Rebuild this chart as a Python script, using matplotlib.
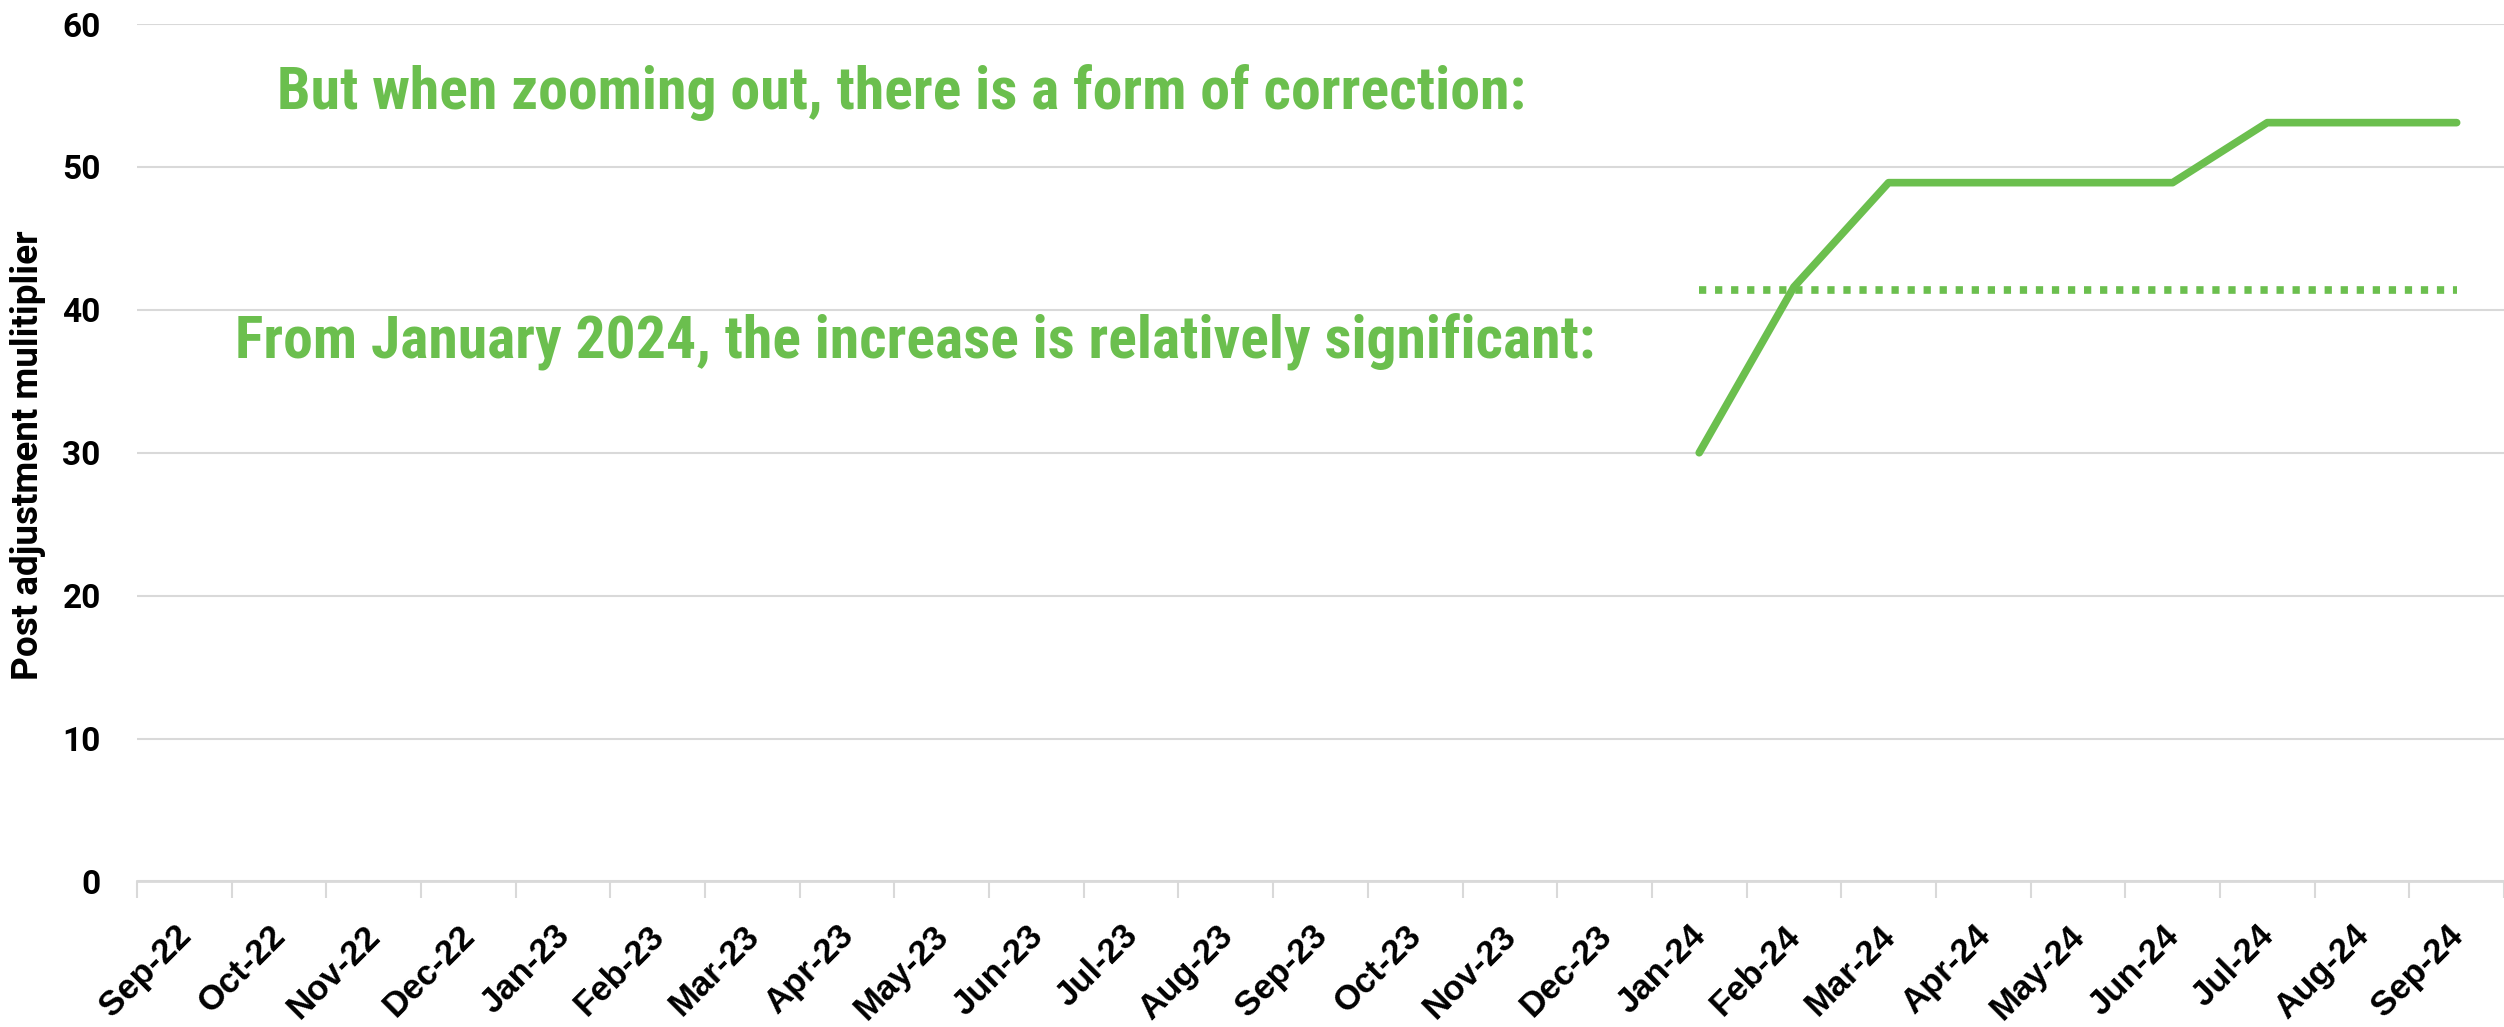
import matplotlib
matplotlib.use("Agg")
import matplotlib.pyplot as plt
from matplotlib import font_manager
from matplotlib.transforms import ScaledTranslation
import numpy as np

months = ["Sep-22", "Oct-22", "Nov-22", "Dec-22", "Jan-23", "Feb-23", "Mar-23",
          "Apr-23", "May-23", "Jun-23", "Jul-23", "Aug-23", "Sep-23", "Oct-23",
          "Nov-23", "Dec-23", "Jan-24", "Feb-24", "Mar-24", "Apr-24", "May-24",
          "Jun-24", "Jul-24", "Aug-24", "Sep-24"]
multiplier = [np.nan] * 16 + [30.0, 41.6, 48.9, 48.9, 48.9, 48.9, 53.1, 53.1, 53.1]
reference_level = [np.nan] * 16 + [41.4] * 9

y_title = "Post adjustment mulitiplier"
note_top = "But when zooming out, there is a form of correction:"
note_mid = "From January 2024, the increase is relatively significant:"

# look for a condensed bold face, otherwise plain Roboto
fams = ["Roboto Condensed", "Roboto", "Noto Sans", "Open Sans", "Liberation Sans Narrow",
        "DejaVu Sans", "Lato", "Inter"]
cond_family, cond_stretch = "Roboto", "normal"
found = [(f.name, f.stretch) for f in font_manager.fontManager.ttflist
         if str(f.stretch) in ("condensed", "semi-condensed", "extra-condensed", "500", "600", "700")
         or "Narrow" in f.name or "Condensed" in f.name]
for fam in fams:
    hits = [h for h in found if h[0] == fam]
    if hits:
        cond_family, cond_stretch = hits[0]
        break

green = "#6BBF4E"
grid = "#D9D9D9"

fig = plt.figure(figsize=(25.04, 10.27), dpi=100)
ax = fig.add_axes([0.0547, 0.1417, 0.9453, 0.8349])

x = np.arange(len(months))
ax.plot(x, multiplier, color=green, lw=5.5, solid_capstyle="round", zorder=3)
ax.plot(x, reference_level, color=green, lw=5.5, linestyle=(0, (0.95, 1.15)),
        dash_capstyle="butt", zorder=3)

ax.set_xlim(-0.5, len(months) - 0.5)
ax.set_ylim(0, 60)
ax.set_yticks(range(0, 61, 10))
ax.yaxis.grid(True, color=grid, lw=1.5)
ax.set_axisbelow(True)
for s in ["top", "right", "left"]:
    ax.spines[s].set_visible(False)
ax.spines["bottom"].set_color(grid)
ax.spines["bottom"].set_linewidth(2)

ax.set_xticks(x)
ax.set_xticks(np.arange(-0.5, len(months), 1), minor=True)
ax.tick_params(axis="x", which="major", length=0, pad=27)
ax.tick_params(axis="x", which="minor", length=12, width=1.5, color=grid)
ax.tick_params(axis="y", length=0, pad=26)
ax.set_xticklabels(months, rotation=45, ha="right", va="top",
                   rotation_mode="anchor", fontsize=25, fontweight="bold",
                   family="Liberation Sans")
shift = ScaledTranslation(-10 / 100, 0, fig.dpi_scale_trans)
for lab in ax.get_xticklabels():
    lab.set_transform(lab.get_transform() + shift)
for lab in ax.get_yticklabels():
    lab.set_fontsize(24)
    lab.set_fontweight("bold")
    lab.set_family("Roboto")

ylab = ax.set_ylabel(y_title, fontsize=24, fontweight="bold", family="Roboto")
ax.yaxis.set_label_coords(-0.0385, 0.497)

t1 = ax.text(0.0591, 0.901, note_top, transform=ax.transAxes, color=green,
             fontsize=40, fontweight="bold", family=cond_family, stretch=cond_stretch,
             va="baseline", ha="left")
t2 = ax.text(0.0414, 0.6107, note_mid, transform=ax.transAxes, color=green,
             fontsize=40, fontweight="bold", family=cond_family, stretch=cond_stretch,
             va="baseline", ha="left")

# size the texts so they span the same length as in the original
r = fig.canvas.get_renderer()
for t, w in [(t1, 1245), (t2, 1357)]:
    cur = t.get_window_extent(r).width
    t.set_fontsize(t.get_fontsize() * w / cur)
cur = ylab.get_window_extent(r).height
ylab.set_fontsize(ylab.get_fontsize() * 450 / cur)

fig.savefig("out.png", dpi=100)
